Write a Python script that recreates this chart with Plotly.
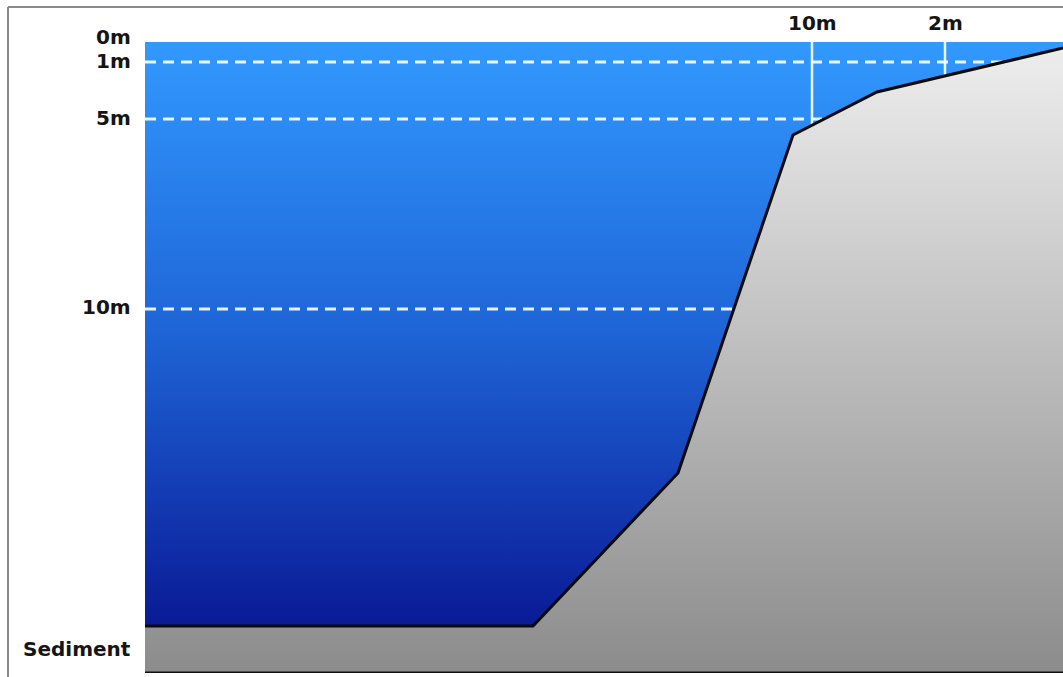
import plotly.graph_objects as go

# ---- schematic data (horizontal distance units, vertical schematic depth units; 0 = water surface) ----
profile_dist = [0, 388, 533, 648, 732, 918]      # shoreline profile, offshore -> onshore
profile_depth = [584, 584, 431, 93, 50, 6]        # bed position along the profile

sediment_top = 584
sediment_bottom = 631
section_width = 918

depth_labels = ["0m", "1m", "5m", "10m"]
depth_levels = [0, 20, 77, 267]
depth_label_nudge = [5, 1, 1, 2]                  # px nudges so 0m / 1m don't collide

dashed_levels = [20, 77, 267]                     # 1m, 5m, 10m reference lines

marker_labels = ["10m", "2m"]                     # distance-from-shore markers
marker_dist = [667, 800]

sediment_label = "Sediment"

FONT = dict(family="DejaVu Sans", size=20, color="#151515", weight="bold")

PLOT_H = 631.0
PLOT_W = 918.0

fig = go.Figure()

# water body
fig.add_trace(go.Scatter(
    x=[0, section_width, section_width, 0, 0],
    y=[0, 0, sediment_top, sediment_top, 0],
    mode="lines", line=dict(width=0), fill="toself",
    fillgradient=dict(type="vertical",
                      colorscale=[[0, "rgb(50,153,255)"], [0.5, "rgb(30,100,214)"], [1, "rgb(10,26,150)"]],
                      start=0, stop=sediment_top),
    hoverinfo="skip"))

# dashed depth lines
for lv in dashed_levels:
    fig.add_trace(go.Scatter(x=[0, section_width], y=[lv, lv], mode="lines",
                             line=dict(color="rgba(255,255,255,0.9)", width=3, dash="11px,7px"),
                             hoverinfo="skip"))

# vertical distance markers
for d in marker_dist:
    fig.add_trace(go.Scatter(x=[d, d], y=[0, sediment_top], mode="lines",
                             line=dict(color="rgba(255,255,255,0.9)", width=2.5),
                             hoverinfo="skip"))

# land / sediment
land_x = profile_dist + [section_width, 0, profile_dist[0]]
land_y = profile_depth + [sediment_bottom, sediment_bottom, profile_depth[0]]
fig.add_trace(go.Scatter(
    x=land_x, y=land_y, mode="lines", line=dict(width=0), fill="toself",
    fillgradient=dict(type="vertical",
                      colorscale=[[0, "rgb(238,238,238)"], [1, "rgb(140,140,140)"]],
                      start=0, stop=sediment_bottom),
    hoverinfo="skip"))

# bed outline
fig.add_trace(go.Scatter(x=profile_dist, y=profile_depth, mode="lines",
                         line=dict(color="#0a0a0a", width=3), hoverinfo="skip"))
# bottom edge
fig.add_trace(go.Scatter(x=[0, section_width], y=[sediment_bottom, sediment_bottom], mode="lines",
                         line=dict(color="#111111", width=3), hoverinfo="skip", cliponaxis=False))

label_x = -12 / PLOT_W   # paper x just left of the section


def depth_to_paper(v):
    return 1 - v / PLOT_H


annotations = []
for lab, lv, nudge in zip(depth_labels, depth_levels, depth_label_nudge):
    annotations.append(dict(text=lab, x=label_x, y=depth_to_paper(lv), xref="paper", yref="paper",
                            xanchor="right", yanchor="middle", yshift=nudge, showarrow=False, font=FONT))
annotations.append(dict(text=sediment_label, x=label_x,
                        y=depth_to_paper((sediment_top + sediment_bottom) / 2 - 1),
                        xref="paper", yref="paper", xanchor="right", yanchor="middle",
                        showarrow=False, font=FONT))
for lab, d in zip(marker_labels, marker_dist):
    annotations.append(dict(text=lab, x=d, y=1, xref="x", yref="paper", yshift=5,
                            xanchor="center", yanchor="bottom", showarrow=False, font=FONT))

frame_x = (8 - 145) / PLOT_W
frame_y = 1 + 35 / PLOT_H
shapes = [
    dict(type="line", xref="paper", yref="paper", x0=frame_x, x1=1.0, y0=frame_y, y1=frame_y,
         line=dict(color="#8a8a8a", width=2)),
    dict(type="line", xref="paper", yref="paper", x0=frame_x, x1=frame_x,
         y0=-4 / PLOT_H, y1=frame_y, line=dict(color="#8a8a8a", width=2)),
]

fig.update_layout(
    width=1063, height=677,
    margin=dict(l=145, r=0, t=42, b=4),
    paper_bgcolor="white", plot_bgcolor="white",
    showlegend=False,
    xaxis=dict(visible=False, range=[0, section_width], fixedrange=True),
    yaxis=dict(visible=False, range=[sediment_bottom, 0], fixedrange=True),
    annotations=annotations, shapes=shapes,
)

fig.write_html("out.html", config={"displayModeBar": False},
               post_script="document.body.style.margin='0';document.body.style.overflow='hidden';")
